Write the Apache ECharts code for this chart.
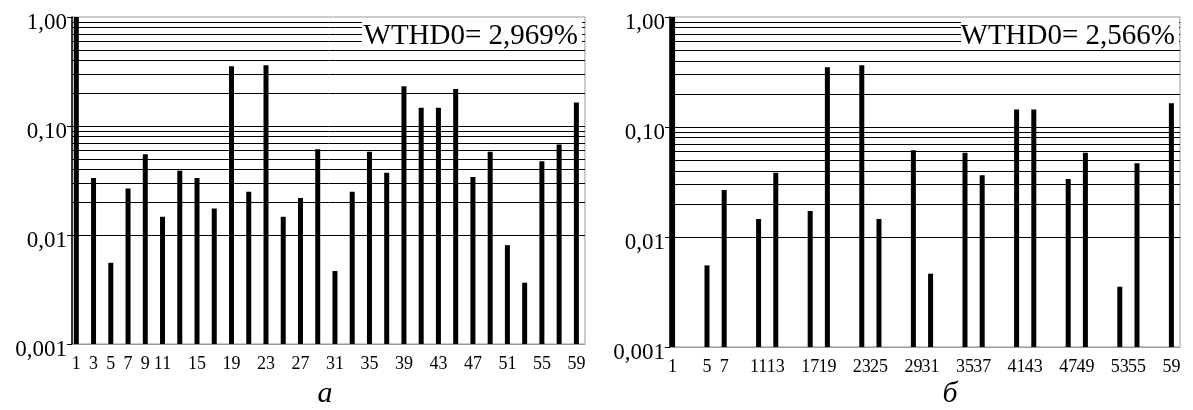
<!DOCTYPE html>
<html><head><meta charset="utf-8">
<script src="https://cdn.jsdelivr.net/npm/echarts@6/dist/echarts.min.js"></script>
<style>html,body{margin:0;padding:0;background:#fff}#c{width:1193px;height:410px}</style>
</head><body><div id="c"></div>
<script>
// ---- data ----
const harmonicsA = [1,3,5,7,9,11,13,15,17,19,21,23,25,27,29,31,33,35,37,39,41,43,45,47,49,51,53,55,57,59];
const valuesA = [1,0.0334,0.00556,0.0267,0.055,0.0147,0.0388,0.0334,0.0175,0.353,0.0249,0.361,0.0147,0.0218,0.0612,0.00467,0.0249,0.058,0.0372,0.232,0.147,0.147,0.219,0.0341,0.058,0.00807,0.00365,0.0475,0.0676,0.164];
const labelsA = [1,3,5,7,9,11,15,19,23,27,31,35,39,43,47,51,55,59];

const harmonicsB = [1,5,7,11,13,17,19,23,25,29,31,35,37,41,43,47,49,53,55,59];
const valuesB = [1,0.00552,0.0267,0.0146,0.0383,0.0172,0.349,0.364,0.0146,0.0615,0.00464,0.0582,0.0365,0.144,0.144,0.0336,0.0582,0.00353,0.0469,0.164];
const labelsB = [1,5,7,11,13,17,19,23,25,29,31,35,37,41,43,47,49,53,55,59];

const yTickValues = [0.001,0.01,0.1,1];
const yTickLabels = ['0,001','0,01','0,10','1,00'];
const gridDecades = [0.001,0.01,0.1];
const gridMultipliers = [1,2,3,4,5,6,7,8,9];

const wthdA = 'WTHD0= 2,969%';
const wthdB = 'WTHD0= 2,566%';
const captionA = 'а';
const captionB = 'б';

// ---- build ----
const FONT = '"Liberation Serif", "DejaVu Serif", serif';
const gridLineVals = [];
gridDecades.forEach(d => gridMultipliers.forEach(m => {
  const v = +(d * m).toPrecision(3);
  if (v > 0.001) gridLineVals.push({ yAxis: v });
}));

function yAxisCfg(idx) {
  return {
    type: 'log', gridIndex: idx, min: 0.001, max: 1, logBase: 10, startValue: 0.001,
    axisLine: { show: true, lineStyle: { color: '#000', width: 1.5 } },
    axisTick: { show: true, length: 5, lineStyle: { color: '#000' } },
    splitLine: { show: false },
    axisLabel: {
      fontFamily: FONT, fontSize: 23, color: '#000', margin: 5,
      verticalAlign: 'top', lineHeight: 12,
      formatter: v => {
        const i = yTickValues.findIndex(t => Math.abs(Math.log10(t) - Math.log10(v)) < 1e-6);
        return i >= 0 ? yTickLabels[i] : '';
      }
    }
  };
}
function xAxisCfg(idx, min, labels) {
  return {
    type: 'value', gridIndex: idx, min: min, max: 60,
    axisLine: { show: true, onZero: false, lineStyle: { color: '#999' } },
    axisTick: { show: false },
    splitLine: { show: false },
    axisLabel: {
      customValues: labels, fontFamily: FONT, fontSize: 18, color: '#000', margin: 11,
      showMinLabel: true, showMaxLabel: true, hideOverlap: false
    }
  };
}
function barSeries(idx, xs, vs) {
  return {
    type: 'bar', xAxisIndex: idx, yAxisIndex: idx, barWidth: 5,
    itemStyle: { color: '#000' },
    data: xs.map((x, i) => [x, vs[i]]),
    markLine: {
      silent: true, symbol: ['none', 'none'], label: { show: false },
      lineStyle: { color: '#000', width: 1, type: 'solid' },
      animation: false, data: gridLineVals
    },
    z: 3
  };
}
function labelBox(x, y, w, h, text) {
  return [
    { type: 'rect', z: 100, shape: { x: x, y: y, width: w, height: h }, style: { fill: '#fff' } },
    { type: 'text', z: 101, x: x + w - 4, y: y + h / 2 + 3,
      style: { text: text, fontFamily: FONT, fontSize: 29, fill: '#000', align: 'right', verticalAlign: 'middle' } }
  ];
}

const chart = echarts.init(document.getElementById('c'), null, { renderer: 'canvas' });
chart.setOption({
  animation: false,
  backgroundColor: '#fff',
  grid: [
    { left: 72, top: 17, width: 513, height: 327, show: true, borderColor: '#999', borderWidth: 1 },
    { left: 670, top: 17, width: 510, height: 330, show: true, borderColor: '#999', borderWidth: 1 }
  ],
  xAxis: [xAxisCfg(0, 0.5, labelsA), xAxisCfg(1, 0.7, labelsB)],
  yAxis: [yAxisCfg(0), yAxisCfg(1)],
  series: [barSeries(0, harmonicsA, valuesA), barSeries(1, harmonicsB, valuesB)],
  graphic: [
    ...labelBox(362, 18, 220, 30, wthdA),
    ...labelBox(961, 18, 218, 30, wthdB),
    { type: 'text', z: 101, x: 325, y: 394, style: { text: captionA, fontFamily: FONT, fontStyle: 'italic', fontSize: 30, fill: '#000', align: 'center', verticalAlign: 'middle' } },
    { type: 'text', z: 101, x: 950, y: 394, style: { text: captionB, fontFamily: FONT, fontStyle: 'italic', fontSize: 30, fill: '#000', align: 'center', verticalAlign: 'middle' } }
  ]
});
</script></body></html>
